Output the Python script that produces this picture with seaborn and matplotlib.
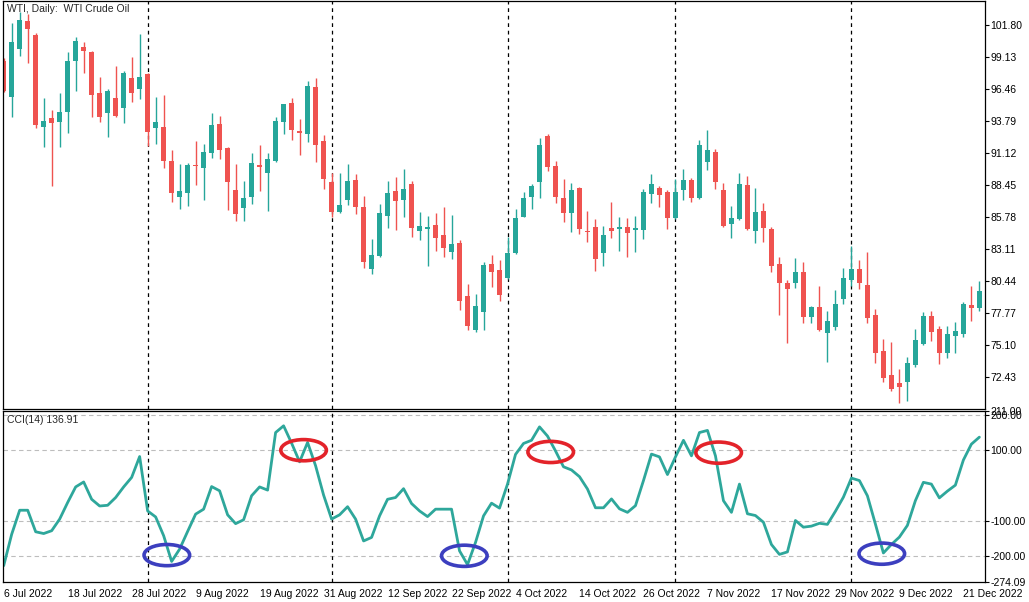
import matplotlib
matplotlib.use("Agg")
import matplotlib.pyplot as plt
from matplotlib.patches import Ellipse
import numpy as np
import pandas as pd
import seaborn as sns

# daily bars, WTI crude, 6 Jul 2022 - 23 Dec 2022
dates = pd.bdate_range("2022-07-06", "2022-12-23")

opens = [98.80, 95.80, 99.83, 102.13, 100.99, 93.32, 94.07, 93.74, 94.55, 98.83,
         99.97, 99.55, 96.13, 94.49, 95.69, 94.91, 97.38, 96.49, 97.72, 93.24,
         93.30, 90.47, 87.49, 87.82, 90.16, 89.91, 91.16, 93.55, 91.58, 88.05,
         86.57, 87.49, 90.13, 89.49, 90.47, 93.74, 95.30, 92.97, 92.72, 96.63,
         92.13, 88.72, 86.22, 87.22, 88.88, 86.66, 81.47, 82.55, 85.91, 87.99,
         87.22, 88.55, 84.66, 84.80, 85.13, 84.30, 82.91, 83.63, 79.22, 76.38,
         77.88, 81.88, 81.38, 80.69, 82.77, 85.83, 87.49, 88.74, 92.57, 90.05,
         87.38, 86.11, 88.22, 84.63, 84.97, 82.83, 84.88, 84.83, 84.97, 84.69,
         84.72, 87.74, 88.22, 87.88, 85.72, 88.05, 88.88, 87.41, 90.41, 91.22,
         88.05, 85.24, 85.61, 88.44, 84.66, 86.30, 84.80, 81.88, 80.33, 80.27,
         81.22, 77.49, 78.30, 76.16, 76.66, 78.99, 80.55, 81.47, 80.13, 77.63,
         74.63, 72.63, 71.94, 72.08, 73.47, 75.22, 77.57, 76.47, 74.49, 75.91,
         76.02, 78.47, 78.19]
highs = [99.05, 101.99, 102.86, 102.72, 101.11, 95.69, 94.72, 96.13, 99.53, 100.80,
         100.38, 99.60, 97.47, 96.44, 98.38, 97.97, 99.11, 101.08, 97.83, 95.83,
         95.97, 91.38, 90.22, 90.27, 92.13, 91.88, 94.47, 94.22, 91.66, 90.22,
         88.77, 91.11, 91.80, 91.11, 94.16, 95.25, 95.72, 93.94, 97.13, 97.38,
         92.63, 89.44, 89.44, 90.22, 89.38, 87.55, 83.97, 86.88, 88.80, 89.11,
         89.80, 88.80, 86.19, 85.91, 86.11, 86.66, 85.97, 83.88, 80.19, 79.36,
         82.02, 82.63, 82.22, 84.16, 86.47, 87.86, 88.52, 92.41, 92.72, 90.47,
         88.94, 88.66, 88.28, 86.33, 85.63, 85.05, 87.07, 85.83, 85.74, 85.88,
         88.11, 89.38, 88.38, 88.05, 88.94, 89.77, 89.02, 92.22, 93.05, 91.44,
         88.61, 86.72, 89.44, 89.22, 88.19, 86.99, 84.94, 82.49, 80.55, 82.36,
         82.05, 78.38, 80.05, 77.97, 79.72, 81.52, 83.38, 82.22, 82.86, 78.11,
         75.61, 75.41, 73.11, 74.11, 76.47, 77.86, 77.97, 76.74, 76.74, 77.02,
         78.69, 80.08, 80.49]
lows = [96.22, 94.16, 99.24, 98.61, 93.24, 91.66, 88.41, 91.66, 92.82, 96.33,
        97.83, 94.16, 93.74, 92.49, 94.16, 93.66, 95.41, 95.63, 91.72, 91.88,
        89.91, 87.07, 86.47, 86.74, 88.47, 87.22, 90.74, 90.66, 86.38, 85.49,
        85.49, 86.88, 87.99, 86.32, 90.41, 92.72, 92.22, 90.97, 92.05, 90.41,
        88.16, 85.83, 86.16, 86.80, 86.05, 81.57, 81.03, 82.44, 84.86, 84.72,
        85.83, 84.16, 83.88, 81.74, 82.97, 82.49, 82.30, 78.05, 76.38, 76.24,
        76.38, 79.99, 78.80, 80.60, 82.70, 85.77, 86.47, 87.41, 89.66, 86.94,
        85.36, 84.58, 84.36, 83.74, 81.32, 81.74, 84.07, 82.99, 82.49, 82.86,
        83.94, 86.99, 86.66, 84.80, 85.63, 87.22, 87.07, 87.27, 89.72, 88.11,
        84.99, 84.07, 85.55, 84.72, 83.66, 83.74, 81.24, 77.63, 75.33, 79.91,
        76.94, 76.99, 76.33, 73.74, 76.38, 78.53, 80.07, 79.77, 76.94, 73.66,
        72.08, 71.33, 70.33, 70.49, 73.33, 75.13, 75.47, 73.52, 74.08, 74.49,
        75.83, 77.16, 77.99]
closes = [96.33, 100.38, 102.22, 101.49, 93.47, 93.80, 93.66, 94.55, 98.80, 100.47,
          99.66, 95.97, 94.13, 96.33, 94.22, 97.83, 96.16, 97.47, 92.91, 93.72,
          90.47, 87.82, 87.97, 90.13, 90.08, 91.19, 93.47, 91.41, 88.74, 86.07,
          87.38, 90.30, 89.99, 90.63, 93.80, 95.22, 93.05, 92.77, 96.72, 91.80,
          88.97, 86.22, 86.80, 88.80, 86.66, 82.05, 82.63, 86.13, 87.80, 87.16,
          88.13, 84.91, 85.05, 84.99, 84.07, 83.24, 83.55, 78.83, 76.72, 78.38,
          81.80, 81.24, 79.30, 82.77, 85.72, 87.41, 88.41, 91.80, 89.99, 87.49,
          86.16, 88.05, 84.83, 84.55, 82.33, 84.30, 84.66, 84.97, 84.49, 84.88,
          87.88, 88.55, 87.66, 85.72, 87.88, 88.88, 87.41, 91.80, 91.36, 88.69,
          85.08, 85.69, 88.55, 84.80, 86.24, 84.91, 81.74, 80.27, 79.83, 81.19,
          77.49, 78.33, 76.38, 77.13, 78.55, 80.72, 81.47, 80.33, 77.41, 74.49,
          72.36, 71.47, 71.66, 73.66, 75.55, 77.57, 76.24, 74.49, 76.05, 76.30,
          78.55, 78.19, 79.63]

cci = [-227, -138, -70, -70, -131, -136, -128, -95, -48, -4,
       10, -39, -58, -56, -34, -4, 23, 82, -72, -89,
       -142, -215, -180, -130, -81, -67, -3, -15, -83, -108,
       -97, -29, -4, -13, 150, 169, 120, 67, 122, 56,
       -27, -95, -83, -60, -95, -157, -147, -86, -39, -34,
       -9, -51, -72, -88, -67, -67, -67, -185, -224, -161,
       -86, -50, -64, 4, 88, 119, 128, 166, 140, 98,
       53, 44, 25, -10, -63, -63, -38, -66, -76, -57,
       14, 89, 81, 31, 81, 128, 84, 150, 156, 84,
       -43, -76, 4, -80, -85, -104, -167, -195, -188, -99,
       -118, -115, -107, -110, -73, -33, 21, 14, -29, -109,
       -191, -167, -146, -113, -43, 9, 4, -35, -16, 1,
       72, 117, 136.91]

price_ticks = [101.80, 99.13, 96.46, 93.79, 91.12, 88.45, 85.78, 83.11, 80.44, 77.77, 75.10, 72.43]
cci_ticks = [211.00, 200.00, 100.00, -100.00, -200.00, -274.09]
cci_grid = [200, 100, -100, -200]

# marked CCI turns: (bar, level)
red_marks = [(37.5, 100), (68.4, 95), (89.4, 93)]
blue_marks = [(20.4, -197), (57.6, -199), (109.8, -193)]

df = pd.DataFrame({"date": dates, "open": opens, "high": highs, "low": lows,
                   "close": closes, "cci": cci})
df["bar"] = np.arange(len(df))
df["up"] = df["close"] >= df["open"]

UP = "#26a69a"
DOWN = "#ef5350"

sns.set_style("white")
plt.rcParams["font.family"] = ["Liberation Sans", "DejaVu Sans"]

fig = plt.figure(figsize=(10.29, 6.02), dpi=100)
ax = fig.add_axes([0.0032, 0.3214, 0.954, 0.6769])
ax2 = fig.add_axes([0.0032, 0.0327, 0.954, 0.2846])

# candles
colors = np.where(df["up"], UP, DOWN)
ax.vlines(df["bar"], df["low"], df["high"], colors=colors, linewidth=1.0)
body_lo = np.minimum(df["open"], df["close"])
body_h = np.maximum((df["close"] - df["open"]).abs(), 0.08)
ax.bar(df["bar"], body_h, bottom=body_lo, width=0.64, color=colors, linewidth=0)

# CCI
sns.lineplot(data=df, x="bar", y="cci", ax=ax2, color="#2ea79b", linewidth=2.0)
for lvl in cci_grid:
    ax2.axhline(lvl, color="#bdbdbd", linestyle=(0, (4, 3)), linewidth=0.8, zorder=0)

for bx, lv in red_marks:
    ax2.add_patch(Ellipse((bx, lv), 5.7, 60, fill=False, edgecolor="#e3232a", linewidth=2.6, zorder=5))
for bx, lv in blue_marks:
    ax2.add_patch(Ellipse((bx, lv), 5.7, 60, fill=False, edgecolor="#3c3fbf", linewidth=2.6, zorder=5))

# month separators
month_start = df.index[df["date"].dt.month != df["date"].dt.month.shift()][1:]
for a in (ax, ax2):
    for b in month_start:
        a.axvline(b, color="black", linestyle=(0, (3, 3)), linewidth=0.9, zorder=0)
    a.set_xlim(-0.05, 122.7)
    for s in a.spines.values():
        s.set_color("black")
        s.set_linewidth(0.9)
    a.yaxis.tick_right()
    a.tick_params(axis="y", direction="out", length=3, width=0.8, pad=1, labelsize=7.5, colors="black")
    a.set_xlabel("")
    a.set_ylabel("")

ax.set_ylim(69.84, 103.8)
ax.set_yticks(price_ticks)
ax.set_yticklabels([f"{v:.2f}" for v in price_ticks])
ax.set_xticks([])

ax2.set_ylim(-274.09, 211.0)
ax2.set_yticks(cci_ticks)
ax2.set_yticklabels([f"{v:.2f}" for v in cci_ticks])

xt = list(range(0, len(df), 8))
ax2.set_xticks(xt)
ax2.set_xticklabels([f"{d.day} {d.strftime('%b %Y')}" for d in df["date"].iloc[xt]], ha="left")
ax2.tick_params(axis="x", direction="out", length=3, width=0.8, pad=2, labelsize=7.5, colors="black")

ax.text(0.004, 0.993, "WTI, Daily:  WTI Crude Oil", transform=ax.transAxes,
        fontsize=7.5, va="top", ha="left")
ax2.text(0.004, 0.975, "CCI(14) 136.91", transform=ax2.transAxes,
         fontsize=7.5, va="top", ha="left")

fig.savefig("out.png", dpi=100)
